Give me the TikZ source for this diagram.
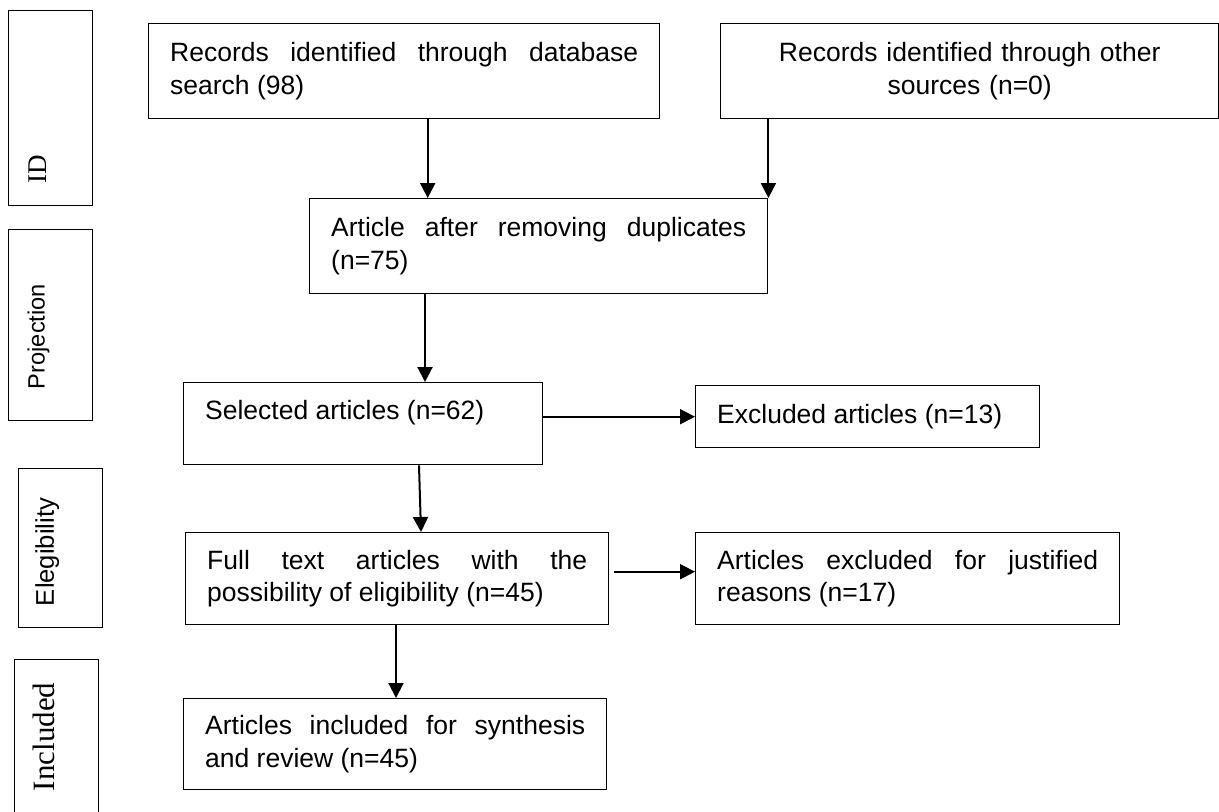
\documentclass[tikz,border=0pt]{standalone}
\usepackage{fontspec}
\setmainfont{Liberation Sans}
\newfontfamily\sidefont{Liberation Serif}
\usetikzlibrary{arrows.meta}
\tolerance=10000
\hbadness=10000
\hyphenpenalty=10000
\exhyphenpenalty=10000

\begin{document}
\begin{tikzpicture}[x=0.5pt, y=-0.5pt,
		box/.style={draw, line width=0.7pt, anchor=north west, inner xsep=10.75pt, inner ysep=0pt,
			align=justify, font=\fontsize{13.25}{16.25}\selectfont},
		sidebox/.style={draw, line width=0.7pt, anchor=north west, inner sep=0pt, minimum width=42pt},
		sidetext/.style={rotate=90, anchor=north west, inner sep=0pt},
		arr/.style={line width=1pt, -{Triangle[width=7.5pt,length=7.5pt]}}]
			\useasboundingbox (0,0) rectangle (1219,811);
			\node[box, text width=234pt, minimum height=47.5pt] (db) at (148,23)
				{Records identified through database search (98)};
			\node[box, text width=227.5pt, align=center, minimum height=47.5pt] (other) at (720,23)
				{Records identified through other\\ sources (n=0)};
			\node[box, text width=207.5pt, minimum height=47.5pt] (art) at (309,198)
				{Article after removing duplicates (n=75)};
			\node[box, text width=158pt, minimum height=41pt, text depth=14.3pt] (sel) at (183,382)
				{Selected articles (n=62)};
			\node[box, text width=150.5pt, minimum height=31pt] (exc) at (695,385)
				{Excluded articles (n=13)};
			\node[box, text width=190pt, minimum height=46pt] (full) at (185,532)
				{Full text articles with the possibility of eligibility (n=45)};
			\node[box, text width=190.5pt, minimum height=46pt] (just) at (695,532)
				{Articles excluded for justified reasons (n=17)};
			\node[box, text width=190pt, minimum height=45.5pt] (incl) at (183,698)
				{Articles included for synthesis and review (n=45)};

			\node[sidebox, minimum height=97.5pt] (idbox) at (8,10) {};
			\node[sidebox, minimum height=95.5pt] (projbox) at (8,229) {};
			\node[sidebox, minimum height=79.5pt] (eligbox) at (18,468) {};
			\node[sidebox, minimum height=85pt] (inclbox) at (14,659) {};
			\node[sidetext, font=\sidefont\fontsize{13.5}{16}\selectfont] (idlabel)
				at ([xshift=10pt,yshift=11.5pt]idbox.south west) {ID};
			\node[sidetext, font=\fontsize{11.8}{14}\selectfont] (projlabel)
				at ([xshift=9.5pt,yshift=16pt]projbox.south west) {Projection};
			\node[sidetext, font=\fontsize{12.8}{15}\selectfont] (eliglabel)
				at ([xshift=8.5pt,yshift=11pt]eligbox.south west) {Elegibility};
			\node[sidetext, font=\sidefont\fontsize{15.5}{18}\selectfont] (incllabel)
				at ([xshift=9.5pt,yshift=19.5pt]inclbox.south west) {Included};

			\draw[arr] ([xshift=11.75pt]db.south) -- ([xshift=11.75pt]db.south |- art.north);
			\draw[arr] (other.south west -| art.north east) -- (art.north east);
			\draw[arr] ([xshift=58pt]art.south west) -- ([xshift=58pt]art.south west |- sel.north);
			\draw[arr] ([xshift=118pt]sel.south west) -- ([xshift=118pt]full.north west);
			\draw[arr] (exc.west -| sel.east) -- (exc.west);
			\draw[arr] ([xshift=2.5pt,yshift=3.5pt]full.east) -- ([yshift=3.5pt]just.west);
			\draw[arr] ([xshift=105.5pt]full.south west) -- ([xshift=105.5pt]full.south west |- incl.north);
		\end{tikzpicture}
\end{document}
